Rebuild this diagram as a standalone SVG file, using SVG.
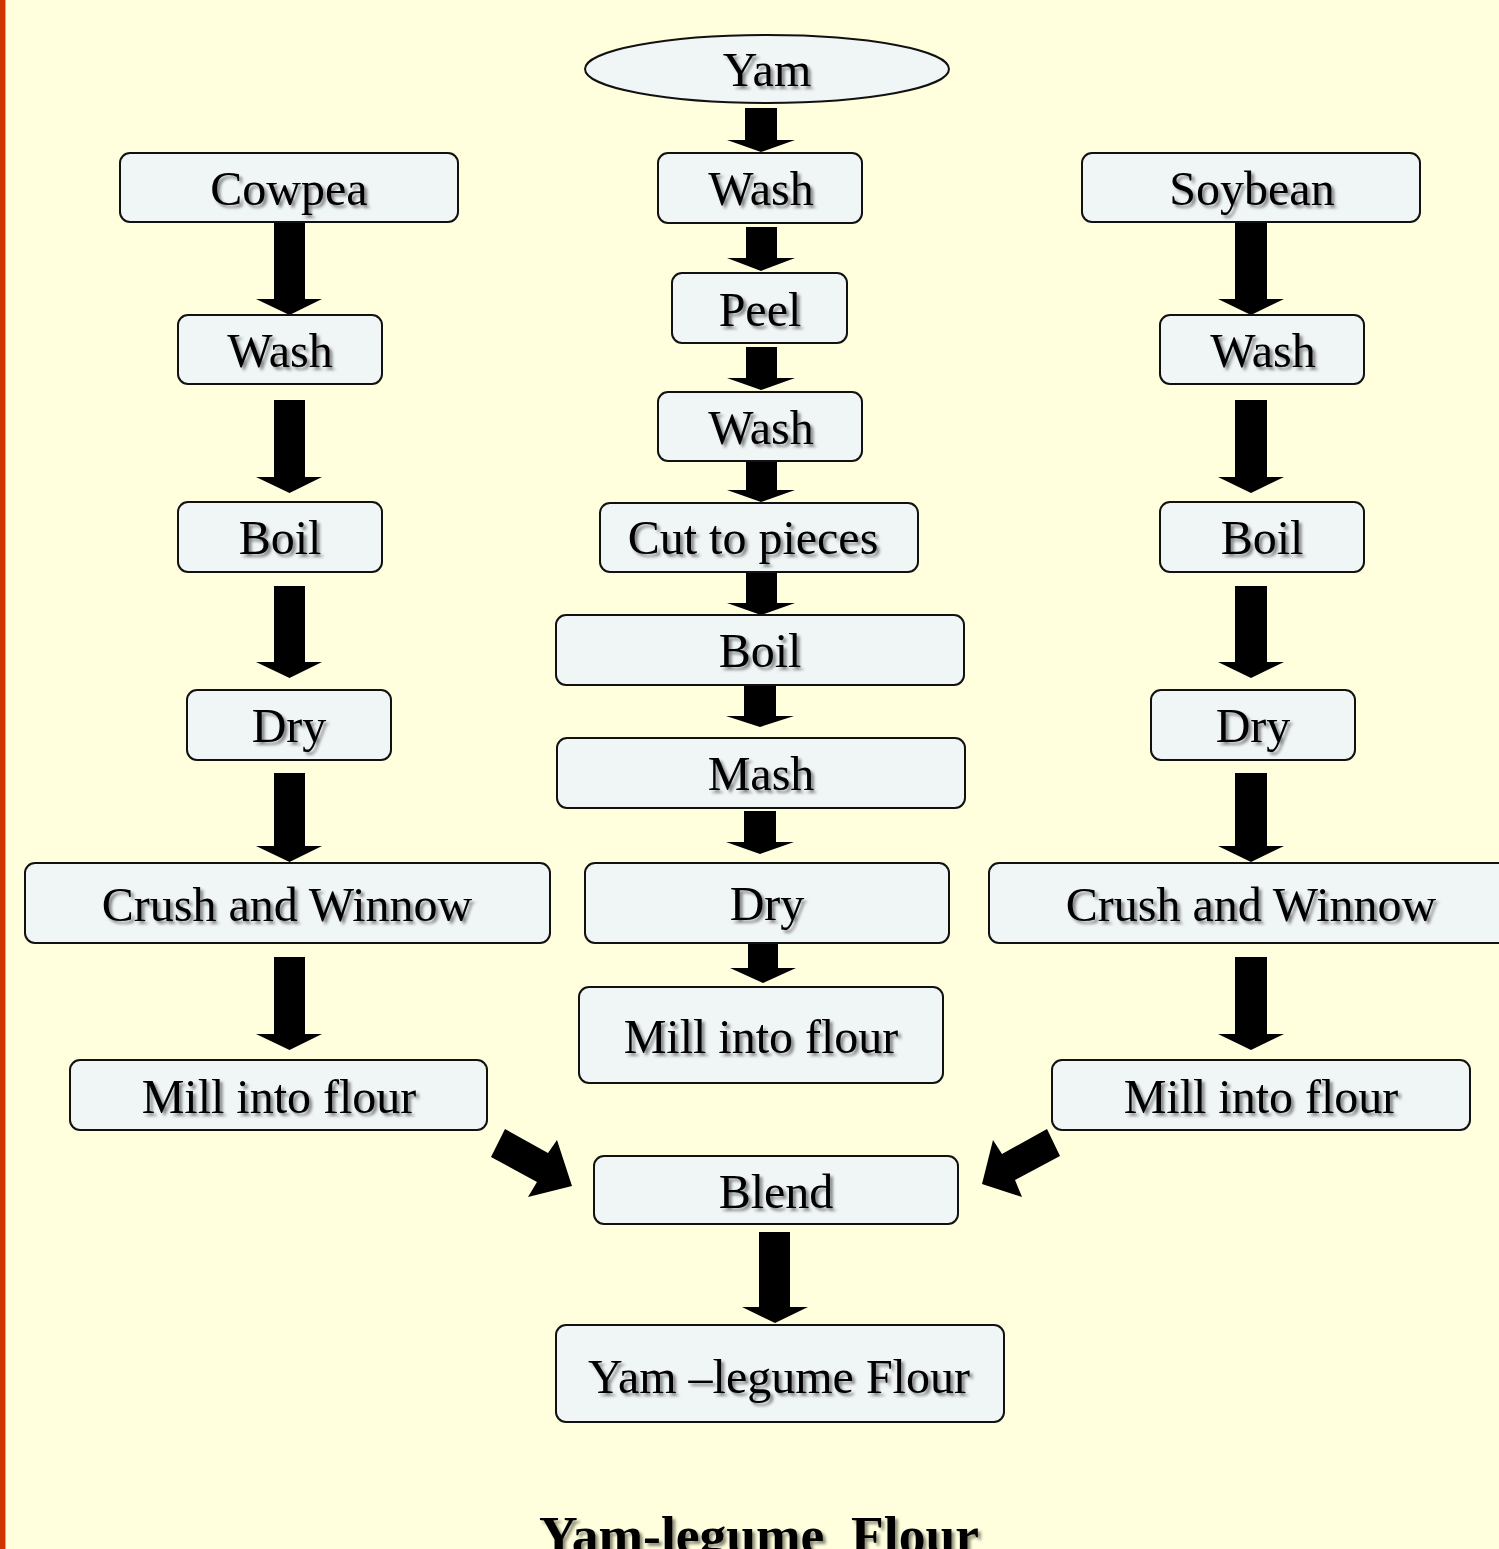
<svg xmlns="http://www.w3.org/2000/svg" width="1499" height="1549" viewBox="0 0 1499 1549">
<defs>
<style>
.box{fill:#F0F5F5;stroke:#111;stroke-width:2}
.t{font-family:"Liberation Serif","Times New Roman",serif;font-size:48px;fill:#000;text-anchor:middle;filter:url(#sh)}
.title{font-family:"Liberation Serif","Times New Roman",serif;font-size:53.5px;font-weight:bold;fill:#000;text-anchor:middle;white-space:pre;filter:url(#sh)}
.arr{fill:#000}
</style>
<filter id="sh" x="-10%" y="-20%" width="130%" height="150%">
<feDropShadow dx="3" dy="3" stdDeviation="1.5" flood-color="#000" flood-opacity="0.45"/>
</filter>
</defs>
<rect x="0" y="0" width="1499" height="1549" fill="#FFFFDD"/>
<rect x="0" y="0" width="5" height="1549" fill="#D03500"/>
<rect x="5" y="0" width="1" height="1549" fill="#F0A070"/>

<g id="connectors">
<!-- left column -->
<polygon class="arr" points="274,223 305,223 305,299 322,299 289.5,315 256,299 274,299"/>
<polygon class="arr" points="274,400 305,400 305,477 322,477 289.5,493 256,477 274,477"/>
<polygon class="arr" points="274,586 305,586 305,662 322,662 289.5,678 256,662 274,662"/>
<polygon class="arr" points="274,773 305,773 305,846 322,846 289.5,862 256,846 274,846"/>
<polygon class="arr" points="274,957 305,957 305,1034 322,1034 289.5,1050 256,1034 274,1034"/>
<!-- right column -->
<polygon class="arr" points="1235,223 1267,223 1267,299 1284,299 1251,315 1218,299 1235,299"/>
<polygon class="arr" points="1235,400 1267,400 1267,477 1284,477 1251,493 1218,477 1235,477"/>
<polygon class="arr" points="1235,586 1267,586 1267,662 1284,662 1251,678 1218,662 1235,662"/>
<polygon class="arr" points="1235,773 1267,773 1267,846 1284,846 1251,862 1218,846 1235,846"/>
<polygon class="arr" points="1235,957 1267,957 1267,1034 1284,1034 1251,1050 1218,1034 1235,1034"/>
<!-- center column -->
<polygon class="arr" points="745,108 777,108 777,140 795,140 761,152 727,140 745,140"/>
<polygon class="arr" points="746,227 777,227 777,258 795,258 761,271 727,258 746,258"/>
<polygon class="arr" points="746,347 777,347 777,378 795,378 761,390 727,378 746,378"/>
<polygon class="arr" points="746,460 777,460 777,490 795,490 761,502 727,490 746,490"/>
<polygon class="arr" points="746,572 777,572 777,603 795,603 761,615 727,603 746,603"/>
<polygon class="arr" points="744,685 776,685 776,716 794,716 760,727 726,716 744,716"/>
<polygon class="arr" points="744,811 776,811 776,842 794,842 760,854 726,842 744,842"/>
<polygon class="arr" points="748,943 778,943 778,968 796,968 763,983 730,968 748,968"/>
<polygon class="arr" points="759,1232 790,1232 790,1307 808,1307 775,1323 742,1307 759,1307"/>
<!-- diagonal -->
<polygon class="arr" points="505,1129 548,1153 557,1140 572,1186 528,1197 537,1182 491,1157"/>
<polygon class="arr" points="1047,1129 1002,1154 993,1140 982,1184 1022,1197 1015,1180 1060,1156"/>
</g>

<!-- left column nodes -->
<g id="cowpea"><rect class="box" x="120" y="153" width="338" height="69" rx="10"/><text class="t" x="289" y="205">Cowpea</text></g>
<g id="l-wash"><rect class="box" x="178" y="315" width="204" height="69" rx="10"/><text class="t" x="280" y="367">Wash</text></g>
<g id="l-boil"><rect class="box" x="178" y="502" width="204" height="70" rx="10"/><text class="t" x="280" y="554">Boil</text></g>
<g id="l-dry"><rect class="box" x="187" y="690" width="204" height="70" rx="10"/><text class="t" x="289" y="742">Dry</text></g>
<g id="l-crush"><rect class="box" x="25" y="863" width="525" height="80" rx="10"/><text class="t" x="287" y="921">Crush and Winnow</text></g>
<g id="l-mill"><rect class="box" x="70" y="1060" width="417" height="70" rx="10"/><text class="t" x="279" y="1113">Mill into flour</text></g>

<!-- center column nodes -->
<g id="yam"><ellipse class="box" cx="767" cy="69" rx="182" ry="34"/><text class="t" x="767" y="86">Yam</text></g>
<g id="c-wash1"><rect class="box" x="658" y="153" width="204" height="70" rx="10"/><text class="t" x="761" y="205">Wash</text></g>
<g id="c-peel"><rect class="box" x="672" y="273" width="175" height="70" rx="10"/><text class="t" x="760" y="326">Peel</text></g>
<g id="c-wash2"><rect class="box" x="658" y="392" width="204" height="69" rx="10"/><text class="t" x="761" y="444">Wash</text></g>
<g id="c-cut"><rect class="box" x="600" y="503" width="318" height="69" rx="10"/><text class="t" x="753" y="554">Cut to pieces</text></g>
<g id="c-boil"><rect class="box" x="556" y="615" width="408" height="70" rx="10"/><text class="t" x="760" y="667">Boil</text></g>
<g id="c-mash"><rect class="box" x="557" y="738" width="408" height="70" rx="10"/><text class="t" x="761" y="790">Mash</text></g>
<g id="c-dry"><rect class="box" x="585" y="863" width="364" height="80" rx="10"/><text class="t" x="767" y="920">Dry</text></g>
<g id="c-mill"><rect class="box" x="579" y="987" width="364" height="96" rx="10"/><text class="t" x="761" y="1053">Mill into flour</text></g>
<g id="blend"><rect class="box" x="594" y="1156" width="364" height="68" rx="10"/><text class="t" x="776" y="1208">Blend</text></g>
<g id="final"><rect class="box" x="556" y="1325" width="448" height="97" rx="10"/><text class="t" x="779" y="1393">Yam –legume Flour</text></g>

<!-- right column nodes -->
<g id="soybean"><rect class="box" x="1082" y="153" width="338" height="69" rx="10"/><text class="t" x="1252" y="205">Soybean</text></g>
<g id="r-wash"><rect class="box" x="1160" y="315" width="204" height="69" rx="10"/><text class="t" x="1263" y="367">Wash</text></g>
<g id="r-boil"><rect class="box" x="1160" y="502" width="204" height="70" rx="10"/><text class="t" x="1262" y="554">Boil</text></g>
<g id="r-dry"><rect class="box" x="1151" y="690" width="204" height="70" rx="10"/><text class="t" x="1253" y="742">Dry</text></g>
<g id="r-crush"><rect class="box" x="989" y="863" width="525" height="80" rx="10"/><text class="t" x="1251" y="921">Crush and Winnow</text></g>
<g id="r-mill"><rect class="box" x="1052" y="1060" width="418" height="70" rx="10"/><text class="t" x="1261" y="1113">Mill into flour</text></g>

<text class="title" x="759" y="1553">Yam-legume  Flour</text>
</svg>
